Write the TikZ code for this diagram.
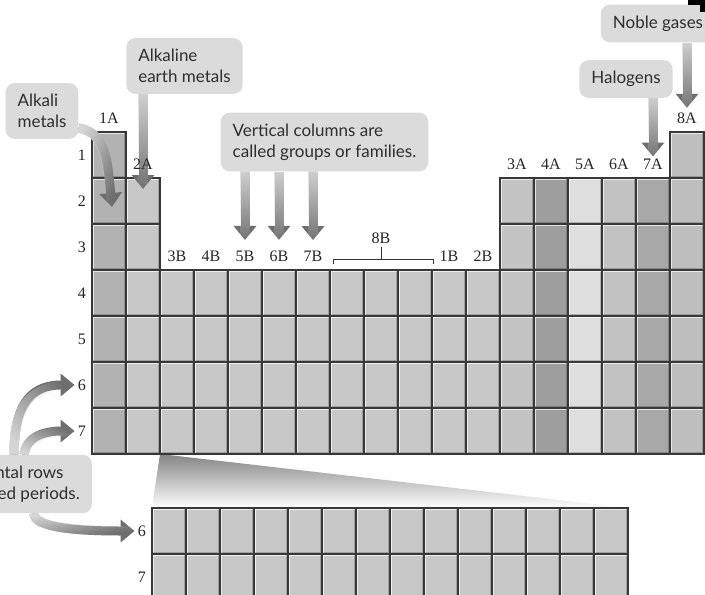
\documentclass[tikz,border=0pt]{standalone}
\usepackage{fontspec}
\setmainfont{Liberation Serif}
\newfontfamily\calloutfont{Lato}
\usetikzlibrary{positioning}
\usetikzlibrary{arrows.meta}
\usetikzlibrary{fadings}
\usetikzlibrary{backgrounds}

\pgfdeclarelayer{pointers}
\pgfdeclarelayer{front}
\pgfsetlayers{background,main,pointers,front}

\definecolor{cellgrey}{HTML}{C8C8C8}
\definecolor{alkgrey}{HTML}{B2B2B2}
\definecolor{grpthree}{HTML}{C4C4C4}
\definecolor{grpfour}{HTML}{9E9E9E}
\definecolor{grpfive}{HTML}{DEDEDE}
\definecolor{grpsix}{HTML}{C2C2C2}
\definecolor{grpseven}{HTML}{A8A8A8}
\definecolor{noblegrey}{HTML}{BEBEBE}
\definecolor{boxgrey}{HTML}{DBDBDB}
\definecolor{arrowgrey}{HTML}{6E6E6E}
\definecolor{inkgrey}{HTML}{2E2E2E}

% pointer shafts fade into the box they leave
\tikzfading[name=tailfade, top color=transparent!5, bottom color=transparent!100]

\tikzset{
	% one tile of the table, bevelled
	cell/.style={draw=black!78, line width=1.2pt, fill=#1, inner sep=0pt, outer sep=0pt,
		minimum width=34pt, minimum height=46pt,
		path picture={
			\draw[white, opacity=.7, line width=1pt]
				([shift={(1.8pt,1.8pt)}]path picture bounding box.south west) |-
				([shift={(-1.8pt,-1.8pt)}]path picture bounding box.north east);
			\draw[black, opacity=.2, line width=1pt]
				([shift={(1.8pt,1.8pt)}]path picture bounding box.south west) -|
				([shift={(-1.8pt,-1.8pt)}]path picture bounding box.north east);
		}},
	cell/.default=cellgrey,
	% group and period numbers
	tag/.style={font=\fontsize{16}{16}\selectfont, text=black!85, inner sep=0pt},
	% grey speech boxes
	callout/.style={fill=boxgrey, rounded corners=9pt, inner xsep=12pt, inner ysep=11pt,
		align=left, text=inkgrey, font=\calloutfont\fontsize{17}{21}\selectfont},
	% thick grey pointers
	pointer/.style={draw=arrowgrey, line width=9pt, -{Triangle[width=22pt,length=14pt]},
		postaction={draw=boxgrey, line width=9.6pt, -, path fading=tailfade, fading angle=#1}},
	pointer/.default=0,
	bracket/.style={draw=black!80, line width=.8pt}
}

\begin{document}
\begin{tikzpicture}[x=1pt,y=-1pt]
\useasboundingbox (0,0) rectangle (705,595);
\clip (0,0) rectangle (705,595);

% main table: group / first period / tone
\foreach \g/\first/\tone in {1/1/alkgrey,2/2/cellgrey,3/4/cellgrey,4/4/cellgrey,5/4/cellgrey,
		6/4/cellgrey,7/4/cellgrey,8/4/cellgrey,9/4/cellgrey,10/4/cellgrey,11/4/cellgrey,12/4/cellgrey,
		13/2/grpthree,14/2/grpfour,15/2/grpfive,16/2/grpsix,17/2/grpseven,18/1/noblegrey}
	\foreach \p in {\first,...,7}
		\node[cell=\tone] (m-\p-\g) at ({75+34*\g},{109+46*\p}) {};

% periods 6 and 7 pulled out below
\foreach \g in {1,...,14}
	\foreach \p in {6,7}
		\node[cell] (f-\p-\g) at ({135+34*\g},{255+46*\p}) {};

\begin{scope}[on background layer]
	\fill[white] (0,0) rectangle (705,595);
	% wedge between the table and the pulled out rows
	\shade[top color=black!48, bottom color=white] (m-7-3.south west) -- (f-6-1.north west) -- (f-6-14.north east) -- cycle;
\end{scope}

\begin{pgfonlayer}{front}
% period numbers
\foreach \p in {1,...,7}
	\node[tag, left=6pt of m-\p-1] (p\p) {\p};
\foreach \p in {6,7}
	\node[tag, left=6pt of f-\p-1] (q\p) {\p};

% group names
\node[tag, above=8pt of m-1-1] (g1A) {1A};
\node[tag, above=8pt of m-2-2] (g2A) {2A};
\foreach \g/\name in {3/3B,4/4B,5/5B,6/6B,7/7B,11/1B,12/2B}
	\node[tag, above=8pt of m-4-\g] (g\name) {\name};
\foreach \g/\name in {13/3A,14/4A,15/5A,16/6A,17/7A}
	\node[tag, above=8pt of m-2-\g] (g\name) {\name};
\node[tag, above=8pt of m-1-18] (g8A) {8A};
\node[tag, above=26pt of m-4-9] (g8B) {8B};

% callouts
\node[callout] (alk) at (42,111) {Alkali\\metals};
\node[callout] (alkE) at (184.5,66) {Alkaline\\earth metals};
\node[callout] (vcol) at (324.5,142) {Vertical columns are\\called groups or families.};
\node[callout] (hal) at (626,79) {Halogens};
\node[callout] (nob) at (658,23.5) {Noble gases};
\node[callout, anchor=east] (per) at (92,484) {Horizontal rows\\are called periods.};
\end{pgfonlayer}

% bracket over the three 8B columns
\coordinate (brl) at ([shift={(3pt,11pt)}]m-4-8.north west);
\coordinate (brr) at ([shift={(1pt,11pt)}]m-4-10.north east);
\draw[bracket] ([yshift=-5pt]brl) -- (brl) -- (brr) -- ([yshift=-5pt]brr);
\draw[bracket] (g8B.south |- brl) -- ([yshift=-3pt]g8B.south);

% pointers, above the cells and under the callouts
\begin{pgfonlayer}{pointers}
\draw[pointer=45] (alk.-25) .. controls +(28,4) and +(-4,-42) .. ([shift={(3pt,-29pt)}]m-2-1.north);
\draw[pointer] (alkE.south -| g2A) -- ([yshift=-11pt]m-2-2.north);
\foreach \name in {5B,6B,7B}
	\draw[pointer] (vcol.south -| g\name) -- ([yshift=11pt]g\name.north);
\draw[pointer] (hal.south -| g7A) -- ([yshift=2.5pt]g7A.north);
\draw[pointer] (nob.south -| g8A) -- ([yshift=5pt]g8A.north);
\draw[pointer=135] ([xshift=-78pt]per.north east) .. controls +(0,-55) and +(-40,0) .. ([xshift=-3pt]p6.west);
\draw[pointer=135] ([xshift=-68pt]per.north east) .. controls +(2,-18) and +(-30,0) .. ([xshift=-3pt]p7.west);
\draw[pointer=45] ([xshift=-58pt]per.south east) .. controls +(0,14) and +(-60,0) .. ([xshift=-3pt]q6.west);
\end{pgfonlayer}

% scan edge in the corner
\begin{pgfonlayer}{front}
\fill[black] (688,0) rectangle (705,5);
\fill[black] (700,0) rectangle (705,12);
\end{pgfonlayer}
\end{tikzpicture}
\end{document}
